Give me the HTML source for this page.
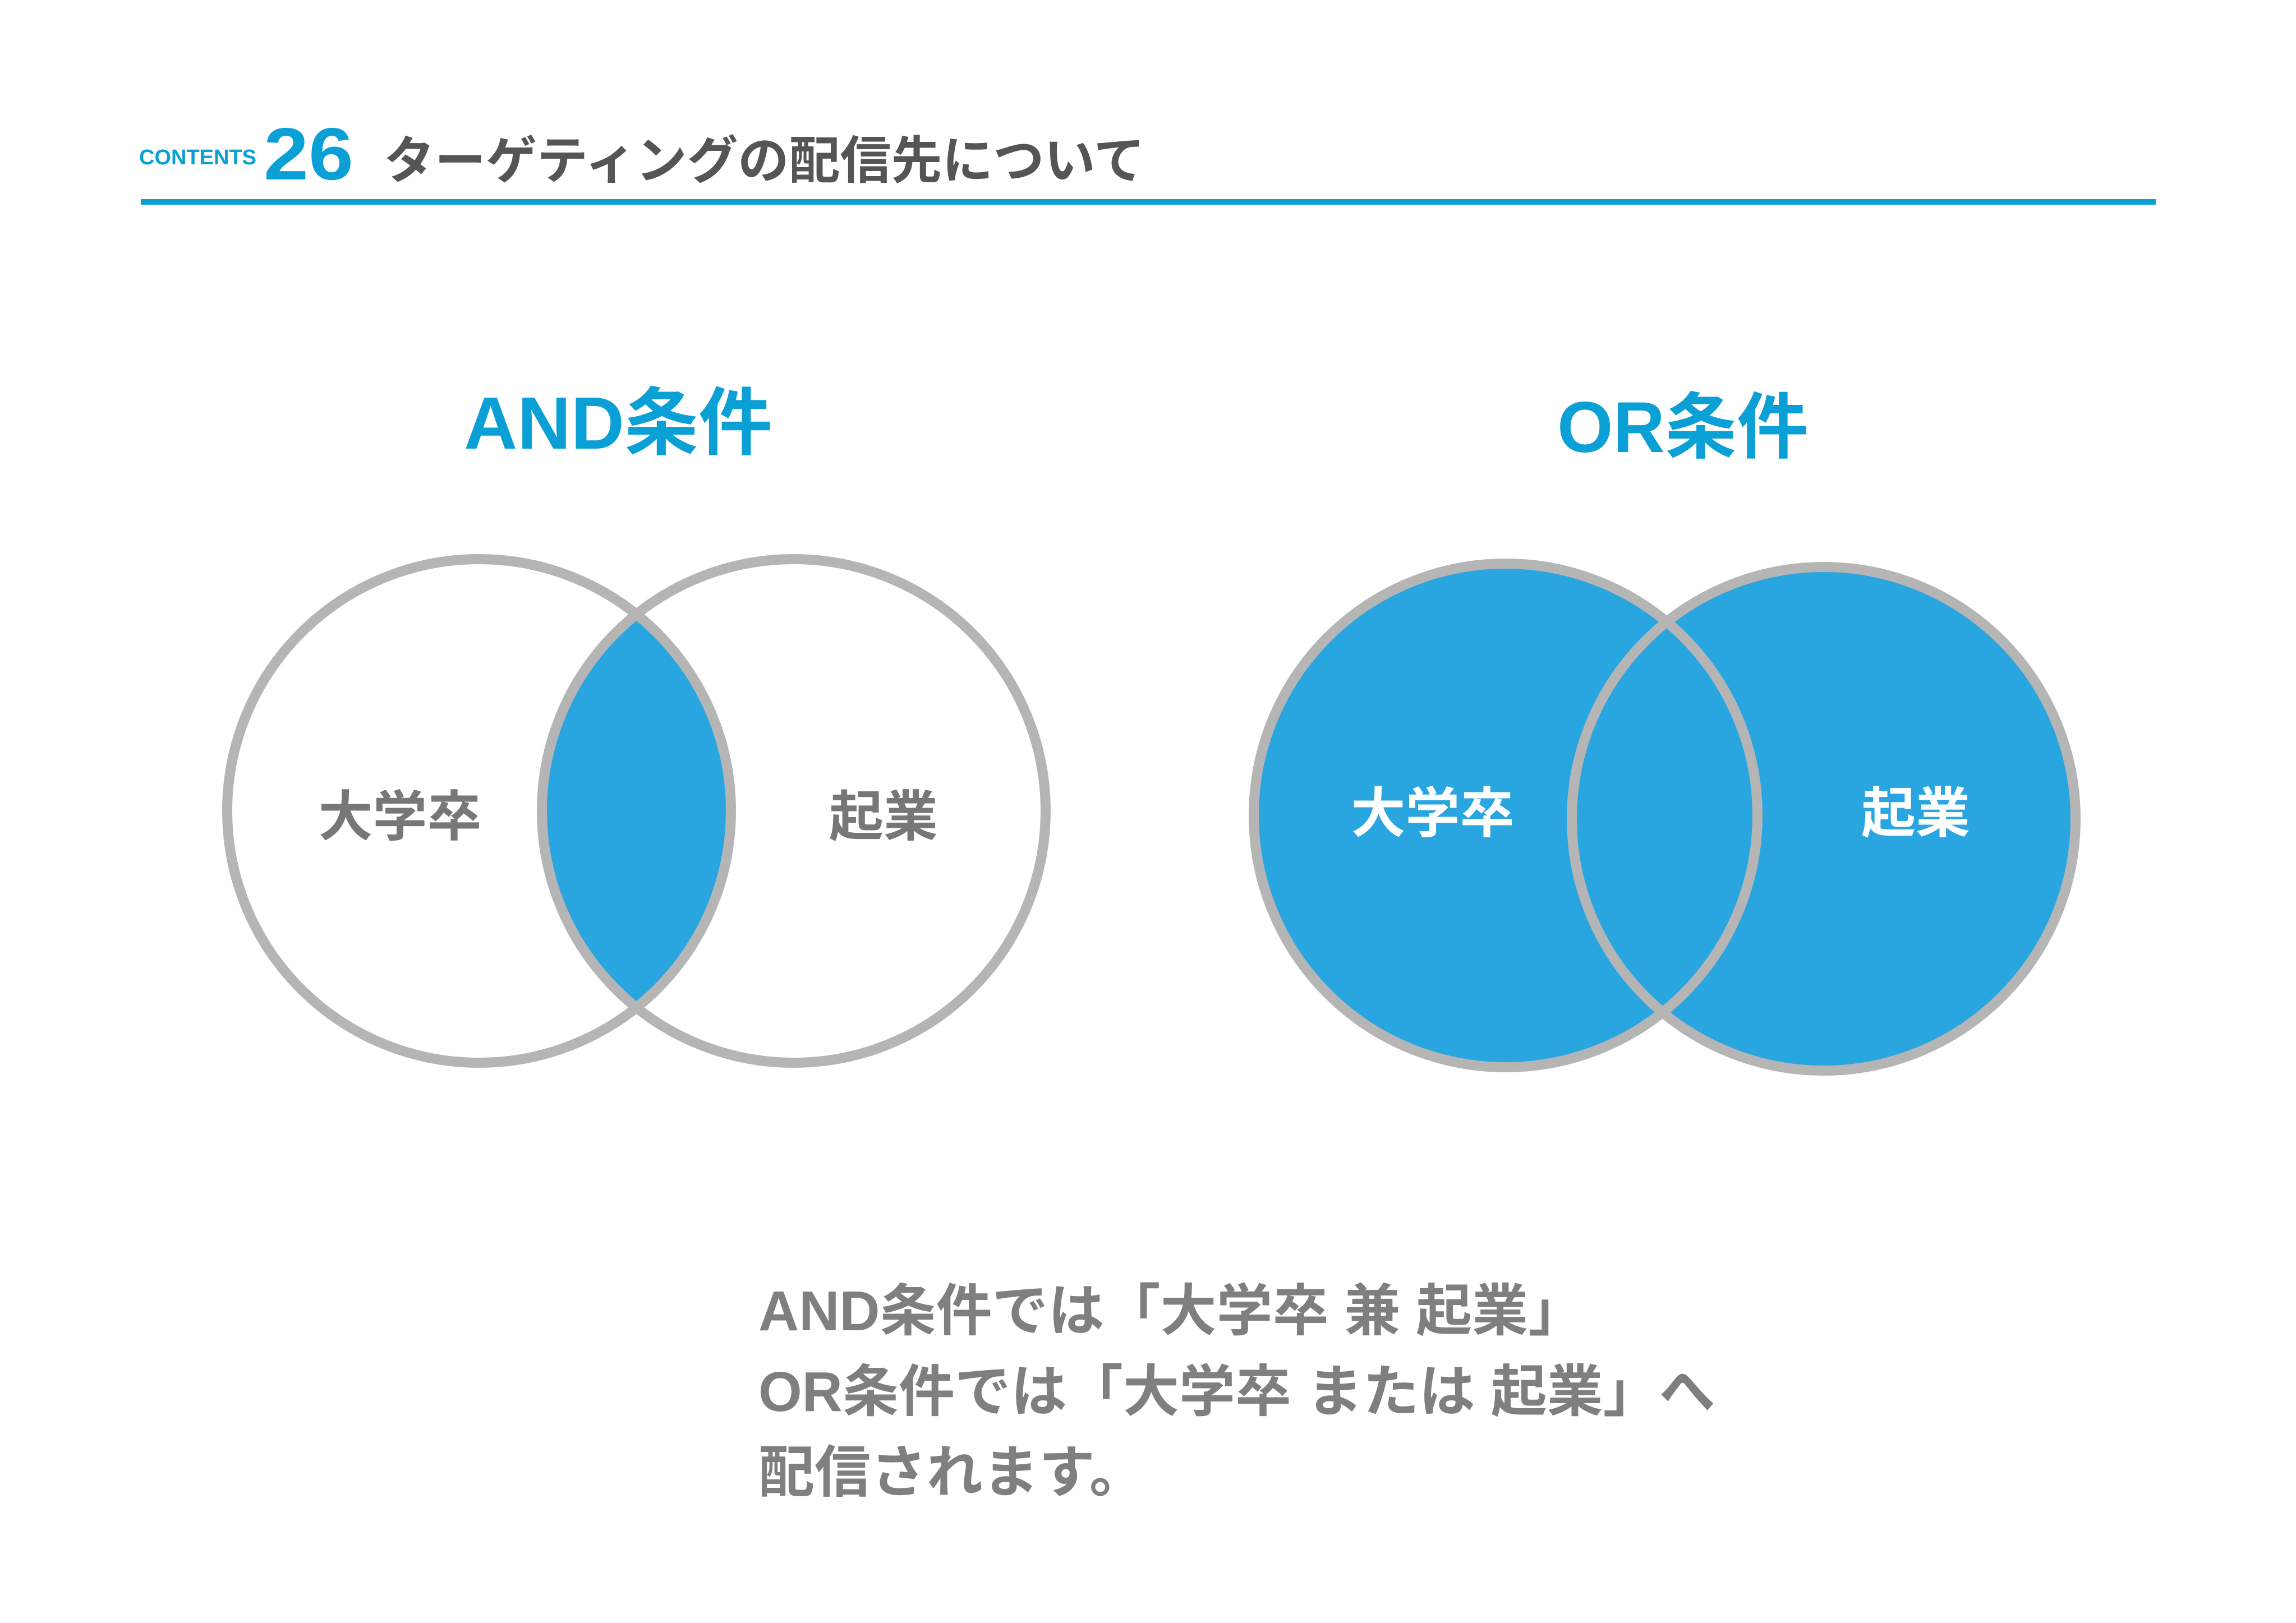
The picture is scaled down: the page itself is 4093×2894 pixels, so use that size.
<!DOCTYPE html>
<html><head><meta charset="utf-8"><style>
html,body{margin:0;padding:0;background:#fff;}
body{width:4093px;height:2894px;position:relative;overflow:hidden;font-family:"Liberation Sans","Noto Sans CJK JP",sans-serif;font-weight:bold;}
</style></head><body>
<svg width="4093" height="2894" viewBox="0 0 4093 2894" xmlns="http://www.w3.org/2000/svg" style="position:absolute;left:0;top:0">
<defs><clipPath id="c1"><circle cx="1415" cy="1446" r="449"/></clipPath></defs>
<g font-family="Liberation Sans, Noto Sans CJK JP, sans-serif" font-weight="bold">
<text x="248" y="293" font-size="38" fill="#0aa0d6">CONTENTS</text>
<text x="470" y="320" font-size="132" fill="#0aa0d6" textLength="160" lengthAdjust="spacingAndGlyphs">26</text>
<text x="684" y="318" font-size="91" fill="#555">ターゲティングの配信先について</text>
<rect x="251" y="355" width="3592" height="10" fill="#0aa0d6"/>
<text x="1102" y="800" font-size="132" fill="#0aa0d6" text-anchor="middle">AND条件</text>
<text x="3000" y="806" font-size="128" fill="#0aa0d6" text-anchor="middle">OR条件</text>
<circle cx="854" cy="1446" r="449" fill="#29a6df" clip-path="url(#c1)"/>
<circle cx="854" cy="1446" r="449" fill="none" stroke="#b5b5b5" stroke-width="18"/>
<circle cx="1415" cy="1446" r="449" fill="none" stroke="#b5b5b5" stroke-width="18"/>
<circle cx="2684" cy="1454" r="449" fill="#29a6df"/>
<circle cx="3251" cy="1460" r="449" fill="#29a6df"/>
<circle cx="2684" cy="1454" r="449" fill="none" stroke="#b5b5b5" stroke-width="18"/>
<circle cx="3251" cy="1460" r="449" fill="none" stroke="#b5b5b5" stroke-width="18"/>
<text x="713" y="1490" font-size="97" fill="#777" text-anchor="middle">大学卒</text>
<text x="1575" y="1490" font-size="97" fill="#777" text-anchor="middle">起業</text>
<text x="2554" y="1484" font-size="97" fill="#fff" text-anchor="middle">大学卒</text>
<text x="3415" y="1484" font-size="97" fill="#fff" text-anchor="middle">起業</text>
<g font-size="100" fill="#7f7f7f">
<text x="1352" y="2372">AND条件では「大学卒 兼 起業」</text>
<text x="1352" y="2516">OR条件では「大学卒 または 起業」へ</text>
<text x="1352" y="2660">配信されます。</text>
</g>
</g>
</svg>
</body></html>
